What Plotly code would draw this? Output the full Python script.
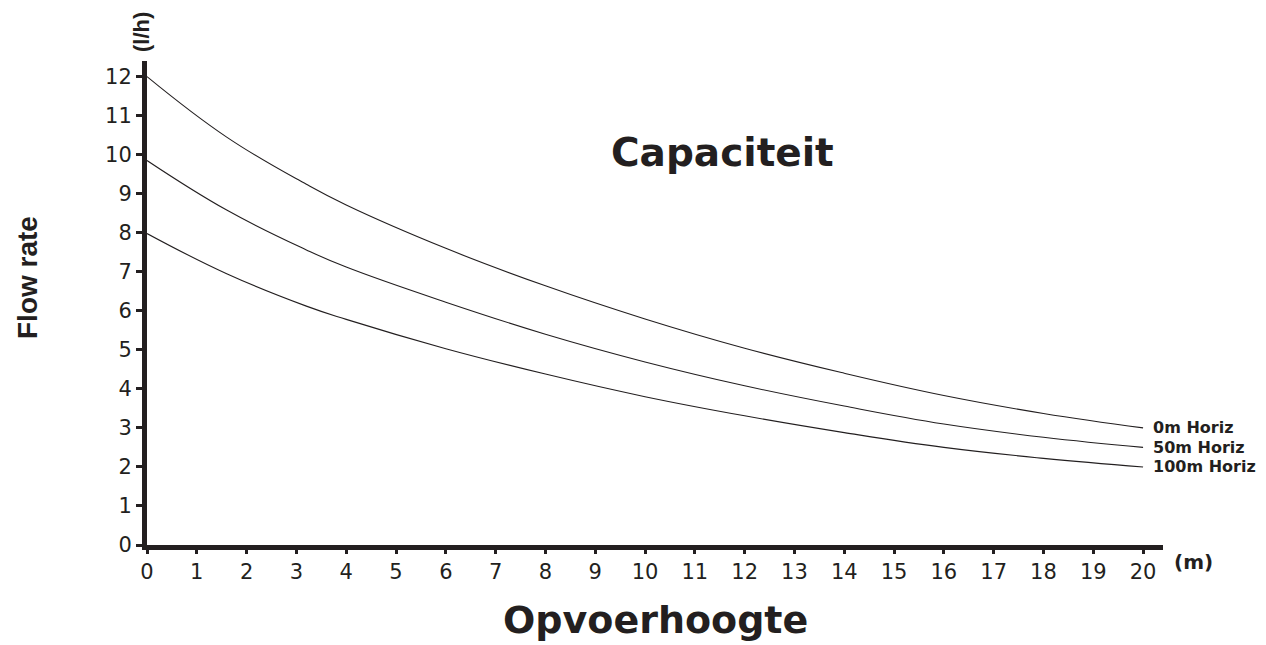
import plotly.graph_objects as go

# Data (x = Opvoerhoogte in m, y = flow rate in l/h)
x_m = [0, 1.6, 3.2, 4, 6, 8, 10, 12, 14, 16, 18, 20]
flow_0m = [12.0, 10.45, 9.24, 8.71, 7.60, 6.64, 5.79, 5.04, 4.40, 3.83, 3.37, 3.0]
flow_50m = [9.85, 8.58, 7.56, 7.12, 6.22, 5.40, 4.69, 4.08, 3.56, 3.10, 2.76, 2.5]
flow_100m = [7.98, 6.95, 6.12, 5.78, 5.03, 4.38, 3.80, 3.31, 2.88, 2.50, 2.22, 2.0]
series_names = ["0m Horiz", "50m Horiz", "100m Horiz"]
x_ticks = list(range(0, 21))
y_ticks = list(range(0, 13))

INK = "#231f20"
# the page body adds an 8px offset; margins are set so the plot lands where the reference has it
ML, MR, MT, MB = 139, 111, 53, 108
W, H = 1266, 645
PW, PH = W - ML - MR, H - MT - MB


def paper(page_x, page_y):
    return (page_x - 8 - ML) / PW, (H - MB - (page_y - 8)) / PH


fig = go.Figure()
for name, ys in zip(series_names, [flow_0m, flow_50m, flow_100m]):
    fig.add_trace(go.Scatter(x=x_m, y=ys, mode="lines", name=name,
                             line=dict(color=INK, width=1.1, shape="spline", smoothing=1.2),
                             hoverinfo="x+y+name"))
    fig.add_annotation(x=x_m[-1], y=ys[-1], xref="x", yref="y", text="<b>%s</b>" % name,
                       showarrow=False, xanchor="left", yanchor="middle", xshift=8,
                       font=dict(family="DejaVu Sans", size=16, color=INK))

fig.update_layout(
    width=W, height=H,
    margin=dict(l=ML, r=MR, t=MT, b=MB),
    plot_bgcolor="white", paper_bgcolor="white",
    showlegend=False,
    font=dict(family="DejaVu Sans", color=INK),
)
fig.update_xaxes(range=[0, 20.4], tickvals=x_ticks, ticktext=[str(v) for v in x_ticks],
                 showgrid=False, zeroline=False, showline=True, linecolor=INK, linewidth=5,
                 ticks="outside", ticklen=4, tickwidth=2.5, tickcolor=INK,
                 tickfont=dict(family="DejaVu Sans", size=21, color=INK))
fig.update_yaxes(range=[0, 12.4], tickvals=y_ticks, ticktext=[str(v) for v in y_ticks],
                 showgrid=False, zeroline=False, showline=True, linecolor=INK, linewidth=5,
                 ticks="outside", ticklen=6, tickwidth=2.5, tickcolor=INK,
                 tickfont=dict(family="DejaVu Sans", size=21, color=INK))


def label(text, page_x, page_y, family, size, angle=0):
    x, y = paper(page_x, page_y)
    fig.add_annotation(x=x, y=y, xref="paper", yref="paper", text=text,
                       showarrow=False, xanchor="center", yanchor="middle", textangle=angle,
                       font=dict(family=family, size=size, color=INK))


label("<b>Capaciteit</b>", 722, 152, "DejaVu Sans", 39)
label("<b>Opvoerhoogte</b>", 655, 620, "DejaVu Sans", 38)
label("<b>Flow rate</b>", 27, 278, "Liberation Sans", 28, -90)
label("<b>(l/h)</b>", 141, 32, "Liberation Sans", 22, -90)
label("<b>(m)</b>", 1193, 562, "DejaVu Sans", 20)

fig.write_html("out.html")
